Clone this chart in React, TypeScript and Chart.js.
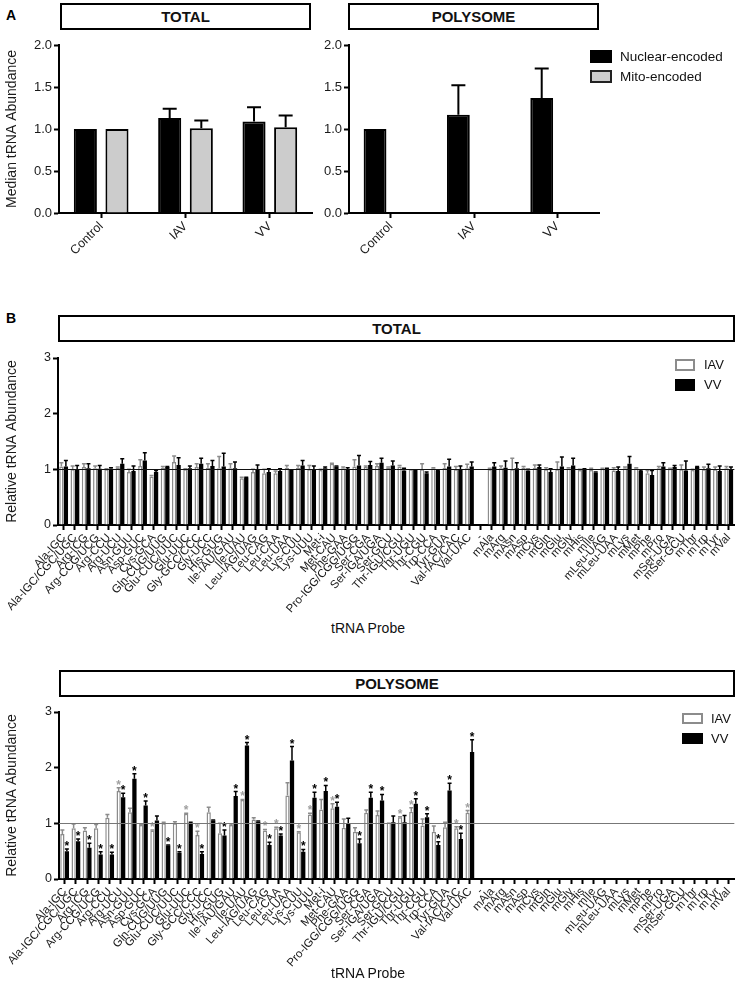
import React, { useEffect, useRef } from 'react';
import { Chart, registerables } from 'chart.js';

Chart.register(...registerables);

const FONT = '"Liberation Sans", Arial, Helvetica, sans-serif';

// ---------- Panel A data ----------
const conditionLabels = ['Control', 'IAV', 'VV'];
const totalNuclear = [1.0, 1.13, 1.09];
const totalNuclearErr = [0, 0.11, 0.17];
const totalMito = [1.0, 1.01, 1.02];
const totalMitoErr = [0, 0.09, 0.14];
const polyNuclear = [1.0, 1.17, 1.37];
const polyNuclearErr = [0, 0.35, 0.35];
const polyMito = [null, null, null];
const polyMitoErr = [0, 0, 0];

// ---------- Panel B data ----------
const probeLabels = [
  'Ala-IGC', 'Ala-IGC/CGC/UGC', 'Arg-ICG', 'Arg-CCG/UCG', 'Arg-CCU', 'Arg-UCU', 'Asn-GUU', 'Asp-GUC',
  'Cys-GCA', 'Gln-CUG/UUG', 'Glu-CUC/UUC', 'Glu-UUC', 'Gly-GCC/CCC', 'Gly-UCC', 'His-GUG', 'Ile-IAU/GAU',
  'Ile-UAU', 'Leu-IAG/UAG', 'Leu-CAG', 'Leu-CAA', 'Leu-UAA', 'Lys-CUU', 'Lys-UUU', 'Met-i', 'Met-CAU',
  'Phe-GAA', 'Pro-IGG/CGG/UGG', 'Ser-CGA', 'Ser-IGA/UGA', 'Ser-GCU', 'Thr-IGU/CGU', 'Thr-UGU', 'Thr-CGU',
  'Trp-CCA', 'Tyr-GUA', 'Val-IAC/CAC', 'Val-UAC', '-',
  'mAla', 'mArg', 'mAsn', 'mAsp', 'mCys', 'mGln', 'mGlu', 'mGly', 'mHis', 'mIle', 'mLeu-UAG', 'mLeu-UAA',
  'mLys', 'mMet', 'mPhe', 'mPro', 'mSer-UGA', 'mSer-GCU', 'mThr', 'mTrp', 'mTyr', 'mVal',
];

const totalIAV = [
  1.05, 1.00, 1.04, 1.02, 1.00, 1.03, 0.95, 1.06, 0.87, 1.03,
  1.13, 1.00, 1.04, 1.03, 1.02, 1.02, 0.84, 0.95, 0.93, 0.93,
  1.03, 1.03, 1.00, 0.99, 1.10, 1.02, 1.05, 1.04, 1.06, 1.03,
  1.05, 1.00, 1.00, 1.02, 1.03, 1.00, 1.02, null,
  1.00, 1.02, 1.00, 1.03, 1.03, 1.00, 1.00, 1.02, 0.99, 0.99,
  1.01, 0.98, 1.02, 1.02, 0.93, 1.02, 1.01, 1.00, 0.99, 1.00, 1.00, 1.02,
];
const totalIAVErr = [
  0.07, 0.06, 0.06, 0.04, 0.01, 0.01, 0.05, 0.11, 0.02, 0.02,
  0.11, 0.01, 0.06, 0.07, 0.21, 0.08, 0.02, 0.05, 0.07, 0.04,
  0.04, 0.04, 0.07, 0.01, 0.01, 0.02, 0.12, 0.02, 0.04, 0.01,
  0.02, 0.00, 0.10, 0.01, 0.07, 0.05, 0.07, null,
  0.02, 0.04, 0.20, 0.02, 0.05, 0.03, 0.13, 0.01, 0.01, 0.03,
  0.01, 0.05, 0.02, 0.01, 0.05, 0.03, 0.01, 0.08, 0.01, 0.04, 0.04, 0.03,
];
const totalVV = [
  1.05, 1.00, 1.02, 1.01, 1.01, 1.10, 0.97, 1.16, 0.95, 1.04,
  1.08, 1.02, 1.10, 1.06, 1.05, 1.02, 0.85, 1.00, 0.95, 0.97,
  1.00, 1.07, 0.99, 1.02, 1.05, 1.00, 1.07, 1.08, 1.12, 1.07,
  0.98, 1.00, 0.93, 0.97, 1.05, 1.00, 1.05, null,
  1.05, 1.03, 1.02, 0.98, 1.04, 0.95, 1.05, 1.07, 1.00, 0.94,
  1.01, 0.97, 1.10, 0.97, 0.90, 1.05, 1.04, 0.98, 1.04, 1.02, 0.97, 1.00,
];
const totalVVErr = [
  0.11, 0.07, 0.08, 0.06, 0.02, 0.09, 0.09, 0.14, 0.03, 0.01,
  0.13, 0.04, 0.10, 0.10, 0.24, 0.11, 0.01, 0.08, 0.06, 0.04,
  0.00, 0.09, 0.07, 0.02, 0.01, 0.03, 0.18, 0.06, 0.08, 0.08,
  0.04, 0.00, 0.02, 0.01, 0.13, 0.06, 0.08, null,
  0.07, 0.12, 0.10, 0.02, 0.04, 0.06, 0.17, 0.13, 0.01, 0.01,
  0.01, 0.07, 0.13, 0.02, 0.08, 0.07, 0.03, 0.17, 0.01, 0.07, 0.09, 0.04,
];

// Polysome: only nuclear-encoded probes were measured
const polyIAV = [
  0.81, 0.91, 0.87, 0.91, 1.10, 1.58, 1.20, 0.97, 0.87, 1.00,
  1.00, 1.17, 0.79, 1.20, 0.82, 0.97, 1.42, 1.07, 0.87, 0.91,
  1.50, 0.84, 1.16, 1.25, 1.27, 0.92, 0.85, 1.19, 1.15, 1.02,
  1.11, 1.21, 0.96, 0.85, 0.93, 0.91, 1.19,
];
const polyIAVErr = [
  0.07, 0.08, 0.05, 0.07, 0.06, 0.06, 0.07, 0.01, 0.01, 0.02,
  0.03, 0.01, 0.07, 0.09, 0.18, 0.02, 0.01, 0.03, 0.02, 0.02,
  0.23, 0.01, 0.02, 0.18, 0.08, 0.16, 0.07, 0.05, 0.07, 0.00,
  0.01, 0.07, 0.12, 0.10, 0.09, 0.03, 0.04,
];
const polyVV = [
  0.50, 0.68, 0.56, 0.44, 0.44, 1.47, 1.80, 1.32, 1.05, 0.60,
  0.47, 0.99, 0.45, 1.05, 0.78, 1.49, 2.40, 1.03, 0.61, 0.78,
  2.13, 0.49, 1.46, 1.58, 1.30, 0.99, 0.64, 1.46, 1.41, 1.02,
  1.02, 1.35, 1.11, 0.61, 1.59, 0.72, 2.28,
];
const polyVVErr = [
  0.04, 0.04, 0.08, 0.05, 0.04, 0.07, 0.09, 0.08, 0.08, 0.01,
  0.02, 0.03, 0.04, 0.01, 0.10, 0.08, 0.05, 0.01, 0.05, 0.03,
  0.25, 0.04, 0.10, 0.10, 0.08, 0.10, 0.08, 0.10, 0.11, 0.11,
  0.12, 0.09, 0.06, 0.06, 0.13, 0.10, 0.22,
];
const polyIAVSig = [
  0, 0, 0, 0, 0, 1, 0, 0, 1, 0,
  0, 1, 1, 0, 0, 0, 1, 0, 1, 1,
  0, 1, 1, 0, 1, 0, 0, 0, 0, 0,
  1, 1, 0, 0, 0, 1, 1,
];
const polyVVSig = [
  1, 1, 1, 1, 1, 1, 1, 1, 0, 1,
  1, 0, 1, 0, 1, 1, 1, 0, 1, 1,
  1, 1, 1, 1, 1, 0, 1, 1, 1, 0,
  0, 1, 1, 1, 1, 1, 1,
];

// ---------- helpers ----------
type ErrSet = {
  err: (number | null)[];
  color: string;
  width: number;
  cap: number;
  sig?: number[];
  sigColor?: string;
};

function errorBarPlugin(sets: ErrSet[]) {
  return {
    id: 'errorBars',
    afterDatasetsDraw(chart: any) {
      const { ctx } = chart;
      const ys = chart.scales.y;
      sets.forEach((set, di) => {
        const meta = chart.getDatasetMeta(di);
        const data = chart.data.datasets[di].data;
        meta.data.forEach((bar: any, i: number) => {
          const v = data[i];
          if (v == null) return;
          const e = set.err[i] || 0;
          const top = ys.getPixelForValue(v + e);
          ctx.save();
          if (e > 0) {
            ctx.strokeStyle = set.color;
            ctx.lineWidth = set.width;
            ctx.beginPath();
            ctx.moveTo(bar.x, bar.y);
            ctx.lineTo(bar.x, top);
            ctx.moveTo(bar.x - set.cap / 2, top);
            ctx.lineTo(bar.x + set.cap / 2, top);
            ctx.stroke();
          }
          if (set.sig && set.sig[i]) {
            ctx.fillStyle = set.sigColor || set.color;
            ctx.font = `bold 12px ${FONT}`;
            ctx.textAlign = 'center';
            ctx.textBaseline = 'alphabetic';
            ctx.fillText('*', bar.x, top + 1);
          }
          ctx.restore();
        });
      });
    },
  };
}

function refLinePlugin(value: number | null, color: string) {
  return {
    id: 'refLine',
    afterDatasetsDraw(chart: any) {
      if (value == null) return;
      const { ctx, chartArea } = chart;
      const y = Math.round(chart.scales.y.getPixelForValue(value)) + 0.5;
      ctx.save();
      ctx.strokeStyle = color;
      ctx.lineWidth = 1;
      ctx.beginPath();
      ctx.moveTo(chartArea.left, y);
      ctx.lineTo(chartArea.right, y);
      ctx.stroke();
      ctx.restore();
    },
  };
}

type Spec = {
  labels: string[];
  datasets: any[];
  errSets: ErrSet[];
  yMax: number;
  yStep: number;
  yDecimals: number;
  yFont: number;
  yTitle?: string;
  yWidth: number;
  xHeight: number;
  padTop: number;
  padRight: number;
  xFont: number;
  rotation: number;
  refLine?: number;
  refColor?: string;
};

function ChartBox({ spec, left, top, width, height }: { spec: Spec; left: number; top: number; width: number; height: number }) {
  const ref = useRef<HTMLCanvasElement>(null);
  useEffect(() => {
    const axisGrid = {
      display: true,
      drawOnChartArea: false,
      drawTicks: true,
      offset: false,
      tickLength: 5,
      tickWidth: 2,
      tickColor: '#000',
    };
    const chart = new Chart(ref.current as HTMLCanvasElement, {
      type: 'bar',
      data: { labels: spec.labels, datasets: spec.datasets },
      options: {
        responsive: false,
        animation: false,
        events: [],
        layout: { padding: { top: spec.padTop, right: spec.padRight, left: 0, bottom: 0 } },
        plugins: { legend: { display: false }, tooltip: { enabled: false } },
        scales: {
          x: {
            offset: true,
            z: 1,
            grid: axisGrid,
            border: { display: true, color: '#000', width: 2 },
            ticks: {
              autoSkip: false,
              minRotation: spec.rotation,
              maxRotation: spec.rotation,
              padding: 1,
              color: '#1a1a1a',
              font: { family: FONT, size: spec.xFont },
            },
            afterFit: (s: any) => {
              s.height = spec.xHeight;
            },
          },
          y: {
            min: 0,
            max: spec.yMax,
            z: 1,
            grid: axisGrid,
            border: { display: true, color: '#000', width: 2 },
            ticks: {
              stepSize: spec.yStep,
              padding: 2,
              color: '#1a1a1a',
              font: { family: FONT, size: spec.yFont },
              callback: (v: any) => Number(v).toFixed(spec.yDecimals),
            },
            title: spec.yTitle
              ? {
                  display: true,
                  text: spec.yTitle,
                  color: '#1a1a1a',
                  font: { family: FONT, size: 14 },
                  padding: { top: 4, bottom: 4 },
                }
              : { display: false },
            afterFit: (s: any) => {
              s.width = spec.yWidth;
            },
          },
        },
      } as any,
      plugins: [
        errorBarPlugin(spec.errSets),
        refLinePlugin(spec.refLine ?? null, spec.refColor || '#000'),
      ] as any,
    });
    return () => chart.destroy();
  }, []);
  return (
    <canvas
      ref={ref}
      width={width}
      height={height}
      style={{ position: 'absolute', left, top, width, height }}
    />
  );
}

const abs = (s: any): any => ({ position: 'absolute', ...s });

function TitleBox({ text, left, top, width }: { text: string; left: number; top: number; width: number }) {
  return (
    <div
      style={abs({
        left,
        top,
        width,
        height: 27,
        boxSizing: 'border-box',
        border: '2px solid #000',
        display: 'flex',
        alignItems: 'center',
        justifyContent: 'center',
        fontWeight: 'bold',
        fontSize: 15,
        color: '#111',
      })}
    >
      {text}
    </div>
  );
}

function LegendItem({ left, top, w, h, fill, border, label, fontSize, gap }: any) {
  return (
    <div style={abs({ left, top, display: 'flex', alignItems: 'center', height: h })}>
      <div style={{ width: w, height: h, boxSizing: 'border-box', background: fill, border: `2px solid ${border}` }} />
      <div style={{ marginLeft: gap, fontSize, lineHeight: `${h}px`, color: '#111', whiteSpace: 'nowrap' }}>{label}</div>
    </div>
  );
}

export default function App() {
  const aBar = { categoryPercentage: 0.75, barPercentage: 0.73, borderWidth: 2, borderSkipped: 'start' };
  const bBar = { categoryPercentage: 0.8, barPercentage: 0.95, borderSkipped: 'start' };

  const specATotal: Spec = {
    labels: conditionLabels,
    datasets: [
      { label: 'Nuclear-encoded', data: totalNuclear, backgroundColor: '#000', borderColor: '#000', ...aBar },
      { label: 'Mito-encoded', data: totalMito, backgroundColor: '#cccccc', borderColor: '#000', ...aBar },
    ],
    errSets: [
      { err: totalNuclearErr, color: '#000', width: 2, cap: 14 },
      { err: totalMitoErr, color: '#000', width: 2, cap: 14 },
    ],
    yMax: 2,
    yStep: 0.5,
    yDecimals: 1,
    yFont: 13,
    yTitle: 'Median tRNA Abundance',
    yWidth: 59,
    xHeight: 67,
    padTop: 15,
    padRight: 8,
    xFont: 12.5,
    rotation: 45,
  };

  const specAPoly: Spec = {
    labels: conditionLabels,
    datasets: [
      { label: 'Nuclear-encoded', data: polyNuclear, backgroundColor: '#000', borderColor: '#000', ...aBar },
      { label: 'Mito-encoded', data: polyMito, backgroundColor: '#cccccc', borderColor: '#000', ...aBar },
    ],
    errSets: [
      { err: polyNuclearErr, color: '#000', width: 2, cap: 14 },
      { err: polyMitoErr, color: '#000', width: 2, cap: 14 },
    ],
    yMax: 2,
    yStep: 0.5,
    yDecimals: 1,
    yFont: 13,
    yWidth: 59,
    xHeight: 67,
    padTop: 15,
    padRight: 11,
    xFont: 12.5,
    rotation: 45,
  };

  const specBTotal: Spec = {
    labels: probeLabels,
    datasets: [
      { label: 'IAV', data: totalIAV, backgroundColor: '#ffffff', borderColor: '#8c8c8c', borderWidth: 1.5, ...bBar },
      { label: 'VV', data: totalVV, backgroundColor: '#000', borderColor: '#000', borderWidth: 0, ...bBar },
    ],
    errSets: [
      { err: totalIAVErr, color: '#8c8c8c', width: 1.5, cap: 4 },
      { err: totalVVErr, color: '#000', width: 1.5, cap: 4 },
    ],
    yMax: 3,
    yStep: 1,
    yDecimals: 0,
    yFont: 12.5,
    yTitle: 'Relative tRNA Abundance',
    yWidth: 58,
    xHeight: 90,
    padTop: 13,
    padRight: 4,
    xFont: 11.5,
    rotation: 48,
    refLine: 1,
    refColor: '#111',
  };

  const specBPoly: Spec = {
    labels: probeLabels,
    datasets: [
      { label: 'IAV', data: polyIAV, backgroundColor: '#ffffff', borderColor: '#8c8c8c', borderWidth: 1.5, ...bBar },
      { label: 'VV', data: polyVV, backgroundColor: '#000', borderColor: '#000', borderWidth: 0, ...bBar },
    ],
    errSets: [
      { err: polyIAVErr, color: '#8c8c8c', width: 1.5, cap: 4, sig: polyIAVSig, sigColor: '#a0a0a0' },
      { err: polyVVErr, color: '#000', width: 1.5, cap: 4, sig: polyVVSig, sigColor: '#000' },
    ],
    yMax: 3,
    yStep: 1,
    yDecimals: 0,
    yFont: 12.5,
    yTitle: 'Relative tRNA Abundance',
    yWidth: 59,
    xHeight: 103,
    padTop: 12,
    padRight: 4,
    xFont: 11.5,
    rotation: 48,
    refLine: 1,
    refColor: '#777',
  };

  return (
    <div style={abs({ left: 0, top: 0, width: 740, height: 982, fontFamily: FONT, background: '#fff', overflow: 'hidden' })}>
      <div style={abs({ left: 6, top: 8, fontSize: 14, fontWeight: 'bold', lineHeight: '14px' })}>A</div>
      <TitleBox text="TOTAL" left={60} top={3} width={251} />
      <TitleBox text="POLYSOME" left={348} top={3} width={251} />
      <ChartBox spec={specATotal} left={0} top={30} width={320} height={250} />
      <ChartBox spec={specAPoly} left={290} top={30} width={320} height={250} />
      <LegendItem left={590} top={50} w={22} h={13} fill="#000" border="#000" label="Nuclear-encoded" fontSize={13.5} gap={8} />
      <LegendItem left={590} top={70} w={22} h={13} fill="#cccccc" border="#222" label="Mito-encoded" fontSize={13.5} gap={8} />

      <div style={abs({ left: 6, top: 311, fontSize: 14, fontWeight: 'bold', lineHeight: '14px' })}>B</div>
      <TitleBox text="TOTAL" left={58} top={315} width={677} />
      <ChartBox spec={specBTotal} left={0} top={345} width={740} height={270} />
      <LegendItem left={675} top={359} w={20} h={12} fill="#fff" border="#8c8c8c" label="IAV" fontSize={13} gap={9} />
      <LegendItem left={675} top={379} w={20} h={12} fill="#000" border="#000" label="VV" fontSize={13} gap={9} />
      <div style={abs({ left: 268, width: 200, top: 620, textAlign: 'center', fontSize: 14, lineHeight: '16px', color: '#111' })}>tRNA Probe</div>

      <TitleBox text="POLYSOME" left={59} top={670} width={676} />
      <ChartBox spec={specBPoly} left={0} top={700} width={740} height={282} />
      <LegendItem left={682} top={713} w={21} h={11} fill="#fff" border="#8c8c8c" label="IAV" fontSize={13} gap={8} />
      <LegendItem left={682} top={733} w={21} h={11} fill="#000" border="#000" label="VV" fontSize={13} gap={8} />
      <div style={abs({ left: 268, width: 200, top: 965, textAlign: 'center', fontSize: 14, lineHeight: '16px', color: '#111' })}>tRNA Probe</div>
    </div>
  );
}
